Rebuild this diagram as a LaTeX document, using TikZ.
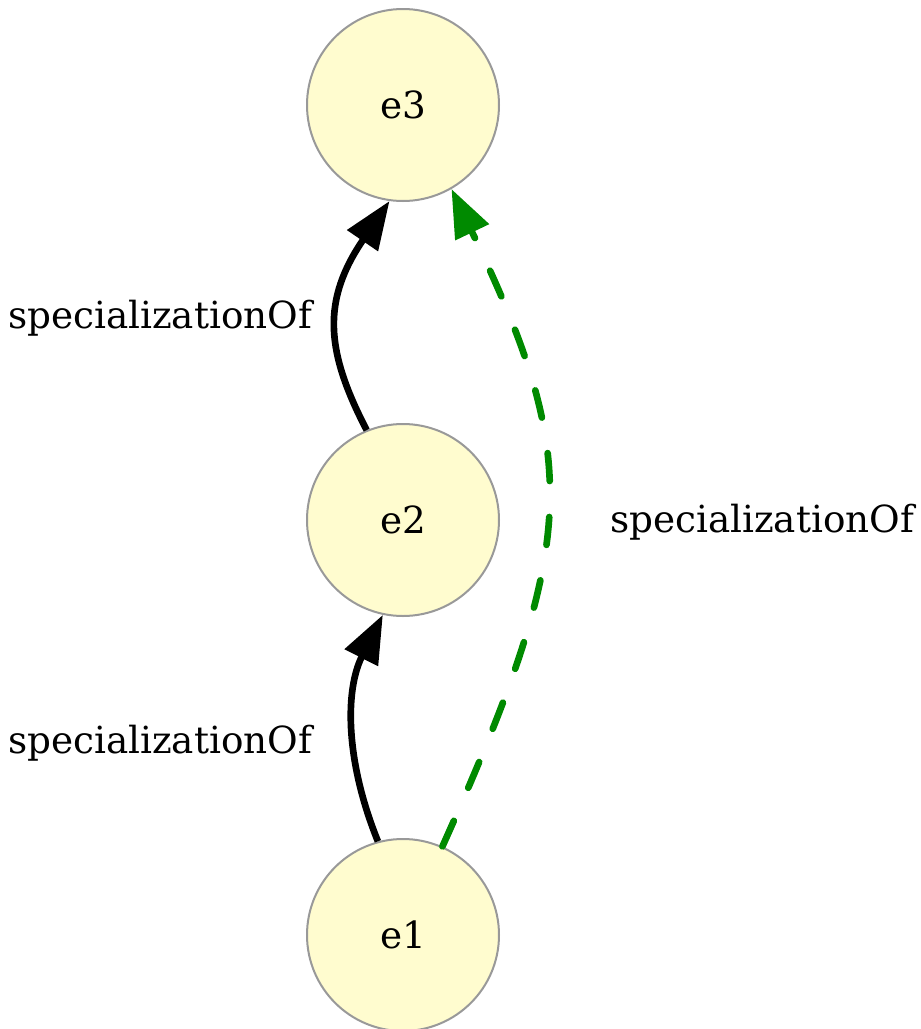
\documentclass[tikz,border=0pt]{standalone}
\usepackage{fontspec}
\setmainfont{DejaVu Serif}
\usetikzlibrary{arrows.meta}
\definecolor{entfill}{HTML}{FFFCCF}
\definecolor{entline}{HTML}{999999}
\definecolor{specgreen}{HTML}{008A00}
\begin{document}
\begin{tikzpicture}[x=0.75pt,y=-0.75pt,
  font=\fontsize{28pt}{34pt}\selectfont,
  entity/.style={circle,draw=entline,fill=entfill,line width=1.5pt,
    minimum size=144pt,inner sep=0pt},
  spec/.style={line width=5pt,-{Triangle[length=36pt,width=27pt]}},
  inferred/.style={spec,specgreen,line cap=round,
    dash pattern=on 21pt off 27pt}]
\useasboundingbox (0,0) rectangle (921,1029);
\node[entity] (e3) at (403,105) {e3};
\node[entity] (e2) at (403,520) {e2};
\node[entity] (e1) at (403,935) {e1};
\draw[spec] (e2.112) .. controls (325,350) and (322,300) .. (e3.262);
\draw[spec] (e1.105) .. controls (345,760) and (345,690) .. (e2.258);
\draw[inferred] (e1.66) .. controls (580,540) and (581,460) .. (e3.300);
\node (l23) at (160,318) {specializationOf};
\node (l12) at (160,743) {specializationOf};
\node (l13) at (762,522) {specializationOf};
\end{tikzpicture}
\end{document}
